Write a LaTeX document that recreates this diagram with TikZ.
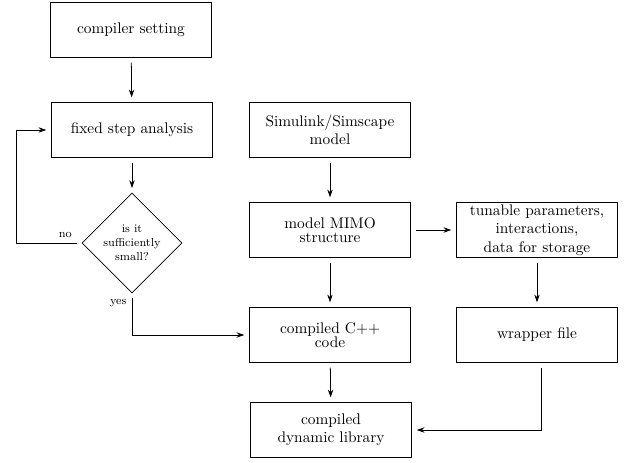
\documentclass[tikz,border=0pt]{standalone}
\usepackage{amsmath}
\usetikzlibrary{shapes.geometric, arrows.meta}

\begin{document}
\begin{tikzpicture}[>={Stealth[length=5pt, width=3.5pt]}, x=0.65pt, y=-0.65pt]
    \tikzstyle{block} = [draw, rectangle, minimum width=105pt, minimum height=36pt,
	align=center, inner sep=1pt]
    \tikzstyle{decision} = [draw, diamond, minimum width=65pt, minimum height=65pt,
	align=center, inner sep=0pt, font=\fontsize{7.5}{9}\selectfont]
    \tikzstyle{tag} = [font=\fontsize{7.5}{9}\selectfont]
    \tikzstyle{link} = [->, line width=0.5pt, shorten >=3pt, shorten <=3pt]

	\useasboundingbox (0,0) rectangle (631,463);

	\begin{scope}[line width=0.5pt]
		\path[link]
			node[block] (comp) at (131,30) {compiler setting}
			node[block] (fixed) at (132,130) {fixed step analysis}
			node[decision] (dec) at (132,243) {is it\\sufficiently\\small?}

			node[block] (sim) at (330,130) {Simulink/Simscape\\model}
			node[block] (mimo) at (330,230) {model MIMO\\[-2.5pt]structure}
			node[block] (cpp) at (330,335) {compiled C++\\[-2.5pt]code}
			node[block] (lib) at (331,430) {compiled\\dynamic library}

			node[block] (tun) at (537,230) {tunable parameters,\\interactions,\\data for storage}
			node[block] (wrap) at (537,335) {wrapper file}

			(comp) edge (fixed)
			(fixed) edge (dec)

			(sim) edge (mimo)
			(mimo) edge (cpp)
			(cpp) edge (lib)

			(mimo) edge (tun)
			(tun) edge (wrap)
		;

		\draw[link] (dec.west) -- node[tag, above, near start] {no} ++(-65,0) |- (fixed.west);
		\draw[link] (dec.south) node[tag, below left] {yes} |- (cpp.west);
		\draw[link] ([xshift=3pt]wrap.south) |- (lib.east);
	\end{scope}
\end{tikzpicture}
\end{document}
